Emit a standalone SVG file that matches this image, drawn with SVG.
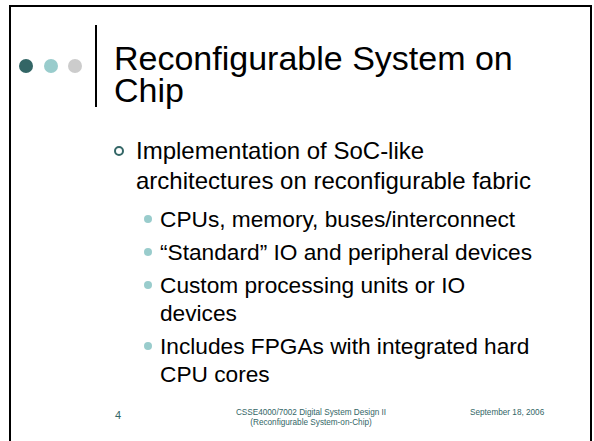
<svg xmlns="http://www.w3.org/2000/svg" width="594" height="441" viewBox="0 0 594 441">
<style>
  text { font-family: "Liberation Sans", Arial, sans-serif; fill: #000; }
  .title { font-size: 34px; }
  .l1 { font-size: 24px; }
  .l2 { font-size: 22.7px; }
  .foot { font-size: 8.2px; fill: #336666; }
  .b2 { fill: #99CCCC; }
</style>
<rect width="594" height="441" fill="#fff"/>
<rect x="10" y="6" width="581" height="460" fill="none" stroke="#000" stroke-width="2"/>
<g id="header">
  <circle cx="26" cy="66" r="7" fill="#336666"/>
  <circle cx="51" cy="66" r="7" fill="#99CCCC"/>
  <circle cx="75" cy="66" r="7" fill="#CCCCCC"/>
  <line x1="96" y1="25" x2="96" y2="107" stroke="#000" stroke-width="2"/>
  <text class="title" x="114" y="70">Reconfigurable System on</text>
  <text class="title" x="114" y="102">Chip</text>
</g>
<g id="body">
  <circle cx="119" cy="151" r="4" fill="none" stroke="#336666" stroke-width="2"/>
  <text class="l1" x="136" y="159">Implementation of SoC-like</text>
  <text class="l1" x="136" y="189">architectures on reconfigurable fabric</text>
  <circle class="b2" cx="148" cy="219" r="4"/>
  <text class="l2" x="160" y="227">CPUs, memory, buses/interconnect</text>
  <circle class="b2" cx="148" cy="252" r="4"/>
  <text class="l2" x="160" y="260">“Standard” IO and peripheral devices</text>
  <circle class="b2" cx="148" cy="285" r="4"/>
  <text class="l2" x="160" y="293">Custom processing units or IO</text>
  <text class="l2" x="160" y="321">devices</text>
  <circle class="b2" cx="148" cy="346" r="4"/>
  <text class="l2" x="160" y="354">Includes FPGAs with integrated hard</text>
  <text class="l2" x="160" y="382">CPU cores</text>
</g>
<g id="footer">
  <text class="foot" x="115" y="419" style="font-size:11px">4</text>
  <text class="foot" x="311" y="415" text-anchor="middle">CSSE4000/7002 Digital System Design II</text>
  <text class="foot" x="311" y="425" text-anchor="middle">(Reconfigurable System-on-Chip)</text>
  <text class="foot" x="470" y="415">September 18, 2006</text>
</g>
</svg>
